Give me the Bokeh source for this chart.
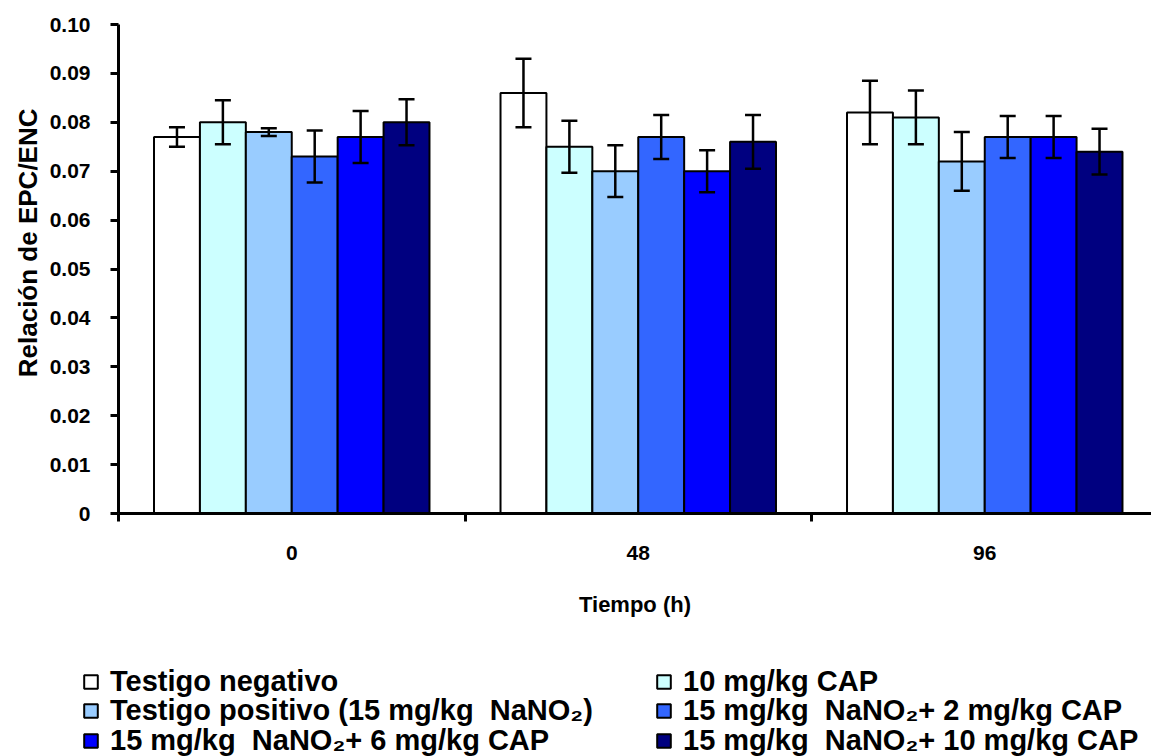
from bokeh.plotting import figure
from bokeh.models import (FixedTicker, Range1d, Whisker, ColumnDataSource, Legend,
                          LegendItem, CustomJSTickFormatter, TeeHead, Title)
from bokeh.embed import file_html
from bokeh.resources import INLINE

# ---- data ----
times = ["0", "48", "96"]
series_names = [
    "Testigo negativo",
    "10 mg/kg CAP",
    "Testigo positivo (15 mg/kg  NaNO\u2082)",
    "15 mg/kg  NaNO\u2082+ 2 mg/kg CAP",
    "15 mg/kg  NaNO\u2082+ 6 mg/kg CAP",
    "15 mg/kg  NaNO\u2082+ 10 mg/kg CAP",
]
colors = ["#FFFFFF", "#CCFFFF", "#99CCFF", "#3366FF", "#0000FF", "#000080"]

testigo_negativo = [0.077, 0.086, 0.082]
testigo_negativo_err = [0.0020, 0.0070, 0.0065]
cap_10 = [0.080, 0.075, 0.081]
cap_10_err = [0.0045, 0.0053, 0.0055]
testigo_positivo = [0.078, 0.070, 0.072]
testigo_positivo_err = [0.0008, 0.0053, 0.0060]
nano2_cap_2 = [0.073, 0.077, 0.077]
nano2_cap_2_err = [0.0053, 0.0045, 0.0043]
nano2_cap_6 = [0.077, 0.070, 0.077]
nano2_cap_6_err = [0.0053, 0.0043, 0.0043]
nano2_cap_10 = [0.080, 0.076, 0.074]
nano2_cap_10_err = [0.0047, 0.0055, 0.0047]

values = [testigo_negativo, cap_10, testigo_positivo, nano2_cap_2, nano2_cap_6, nano2_cap_10]
errors = [testigo_negativo_err, cap_10_err, testigo_positivo_err, nano2_cap_2_err,
          nano2_cap_6_err, nano2_cap_10_err]

y_ticks = [round(i * 0.01, 2) for i in range(11)]
y_title = "Relación de EPC/ENC"
x_title = "Tiempo (h)"

# ---- layout ----
W, H = 1151, 756
H1 = 660               # main chart height; legend strip below
left, top, frame_bottom = 118, 24, 513
cat_px = 346.5
x_end = (W - left) / cat_px
bar_w = 0.1325
FONT = "Liberation Sans"

p = figure(width=W, height=H1, output_backend="svg", toolbar_location=None,
           x_range=Range1d(0, x_end), y_range=Range1d(0, 0.1),
           min_border_left=left, min_border_right=0, min_border_top=top,
           min_border_bottom=H1 - frame_bottom)
p.outline_line_color = None
p.xgrid.visible = False
p.ygrid.visible = False
p.background_fill_color = "white"
p.border_fill_color = "white"

sources = []
for i, (name, vals, errs, col) in enumerate(zip(series_names, values, errors, colors)):
    xs = [g + 0.5 + (i - 2.5) * bar_w for g in range(len(times))]
    src = ColumnDataSource(dict(x=xs, top=vals,
                                upper=[v + e for v, e in zip(vals, errs)],
                                lower=[v - e for v, e in zip(vals, errs)]))
    sources.append(src)
    p.vbar(x="x", top="top", bottom=0, width=bar_w, source=src,
           fill_color=col, line_color="black", line_width=2)
    wk = Whisker(base="x", upper="upper", lower="lower", source=src,
                 line_color="black", line_width=2.5, level="overlay",
                 upper_head=TeeHead(size=16, line_color="black", line_width=2.5),
                 lower_head=TeeHead(size=16, line_color="black", line_width=2.5))
    p.add_layout(wk)

# y axis
ya = p.yaxis[0]
ya.ticker = FixedTicker(ticks=y_ticks, minor_ticks=[])
ya.formatter = CustomJSTickFormatter(code="return tick == 0 ? '0' : tick.toFixed(2);")
ya.axis_line_width = 3
ya.major_tick_line_width = 3
ya.major_tick_out = 8
ya.major_tick_in = 0
ya.minor_tick_line_color = None
ya.major_label_standoff = 20
ya.major_label_text_font = FONT
ya.major_label_text_font_style = "bold"
ya.major_label_text_font_size = "21px"
ya.major_label_text_color = "black"

# y-axis title (placed as a left title so it can sit where the reference has it)
yt = Title(text=y_title, align="right", offset=84, vertical_align="middle",
           text_font=FONT, text_font_style="bold", text_font_size="26px",
           text_color="black", standoff=6)
p.add_layout(yt, "left")

# x axis
xa = p.xaxis[0]
xa.ticker = FixedTicker(ticks=[g + 0.5 for g in range(len(times))],
                        minor_ticks=list(range(len(times) + 1)))
xa.formatter = CustomJSTickFormatter(args=dict(labels=times),
                                     code="return labels[Math.floor(tick)];")
xa.axis_label = x_title
xa.axis_line_width = 3
xa.major_tick_out = 0
xa.major_tick_in = 0
xa.minor_tick_out = 8
xa.minor_tick_in = 0
xa.minor_tick_line_width = 3
xa.minor_tick_line_color = "black"
xa.major_label_standoff = 24
xa.axis_label_standoff = 29
xa.major_label_text_font = FONT
xa.major_label_text_font_style = "bold"
xa.major_label_text_font_size = "21px"
xa.major_label_text_color = "black"
xa.axis_label_text_font = FONT
xa.axis_label_text_font_style = "bold"
xa.axis_label_text_font_size = "22px"
xa.axis_label_text_color = "black"

# ---- legend strip (separate root placed under the chart) ----
H2 = H - H1
lg = figure(width=W, height=H2, output_backend="svg", toolbar_location=None,
            x_range=Range1d(0, 1), y_range=Range1d(0, 1),
            x_axis_location=None, y_axis_location=None,
            min_border=0, min_border_left=0, min_border_right=0,
            min_border_top=0, min_border_bottom=0)
lg.outline_line_color = None
lg.xgrid.visible = False
lg.ygrid.visible = False
lg.border_fill_color = "white"

proxies = []
for src, c in zip(sources, colors):
    r = lg.vbar(x="x", top="top", bottom=0, width=bar_w, source=src,
                fill_color=c, line_color="black", line_width=2)
    r.visible = False
    proxies.append(r)

ITEM_H = 33
col_x = [82, 655]
row_y = [681, 710, 740]   # row centres in page pixels
for k, name in enumerate(series_names):
    cx = col_x[k % 2]
    cy = row_y[k // 2] - H1
    leg = Legend(items=[LegendItem(label=name, renderers=[proxies[k]])],
                 location=(cx, H2 - cy - ITEM_H / 2), orientation="vertical")
    leg.border_line_color = None
    leg.background_fill_alpha = 0
    leg.inactive_fill_alpha = 0
    leg.padding = 0
    leg.margin = 0
    leg.spacing = 0
    leg.label_height = 20
    leg.glyph_width = 17
    leg.glyph_height = 17
    leg.label_standoff = 11
    leg.label_text_font = FONT
    leg.label_text_font_style = "bold"
    leg.label_text_font_size = "29px"
    leg.label_text_color = "black"
    lg.add_layout(leg)

open("out.html", "w").write(file_html([p, lg], INLINE))
